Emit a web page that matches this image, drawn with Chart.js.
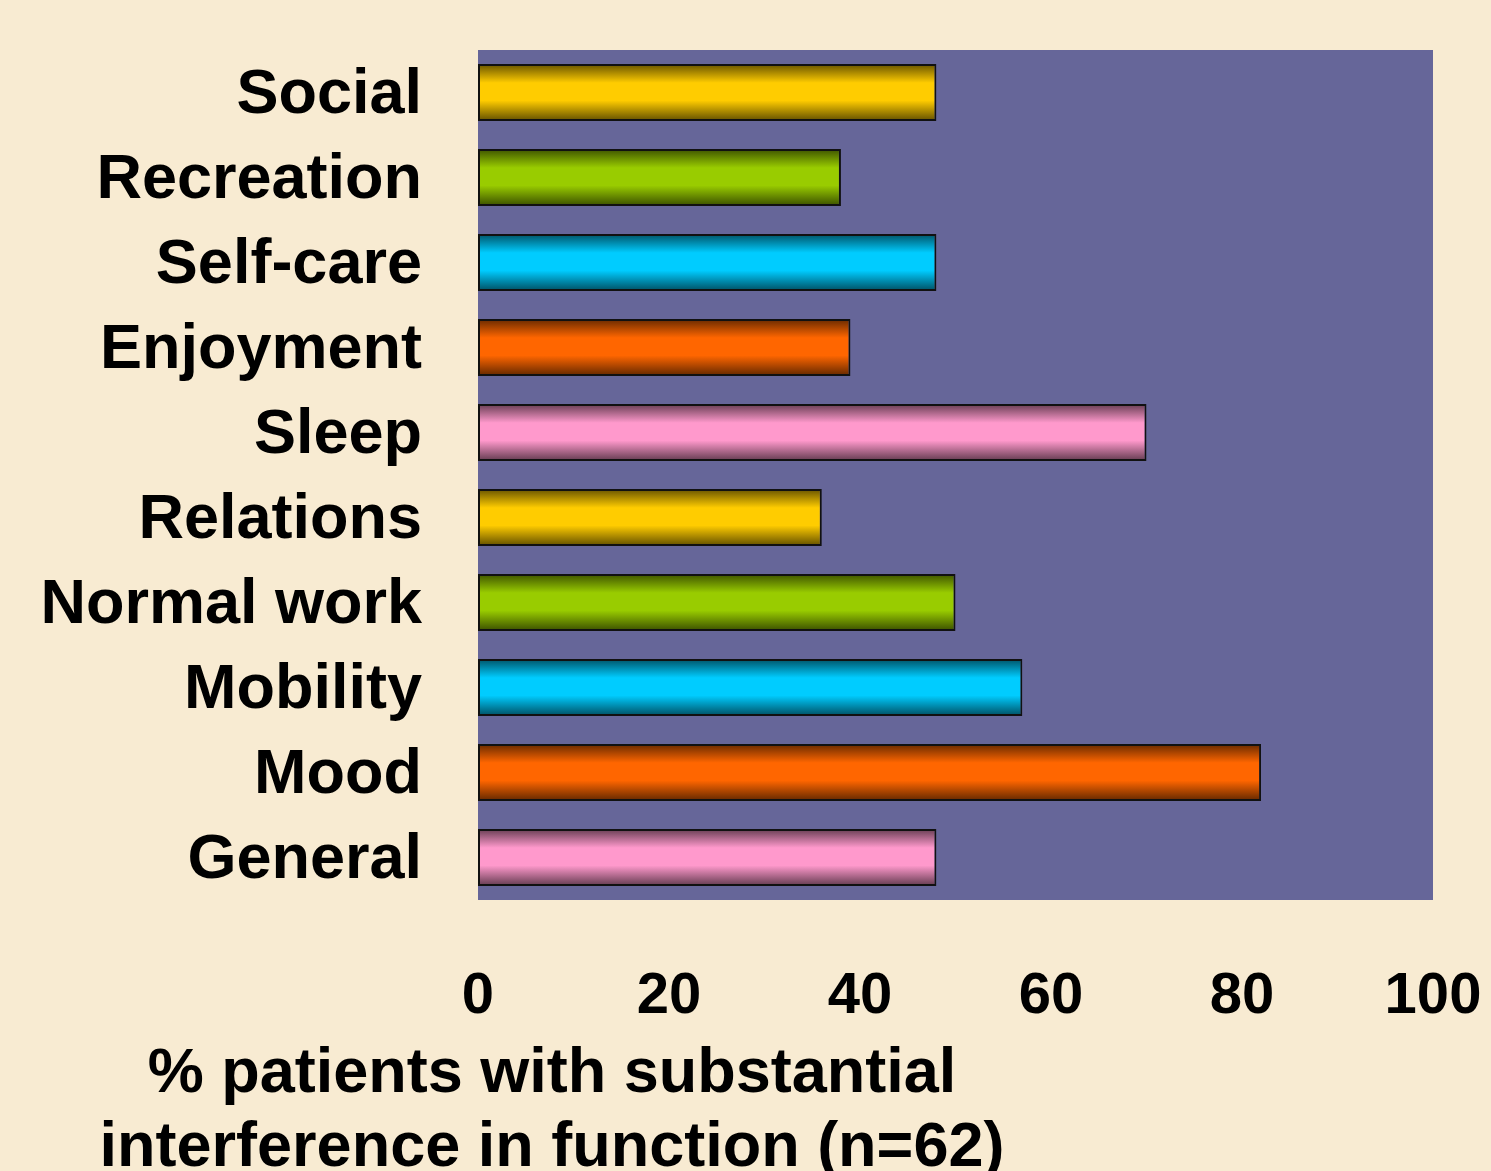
<!DOCTYPE html>
<html>
<head>
<meta charset="utf-8">
<script src="https://cdn.jsdelivr.net/npm/chart.js@4.4.1/dist/chart.umd.min.js"></script>
<style>
  html, body { margin: 0; padding: 0; background: #F8EBD2; }
  #wrap { width: 1491px; height: 1171px; position: relative; }
  canvas { display: block; }
</style>
</head>
<body>
<div id="wrap"><canvas id="c" width="1491" height="1171"></canvas></div>
<script>
const categories = ["Social", "Recreation", "Self-care", "Enjoyment", "Sleep", "Relations", "Normal work", "Mobility", "Mood", "General"];
const values = [48, 38, 48, 39, 70, 36, 50, 57, 82, 48];
const barColors = ["#FFCC00", "#99CC00", "#00CCFF", "#FF6600", "#FF99CC", "#FFCC00", "#99CC00", "#00CCFF", "#FF6600", "#FF99CC"];
const xTicks = [0, 20, 40, 60, 80, 100];
const axisTitleLines = ["% patients with substantial", "interference in function (n=62)"];

function shade(hex, f) {
  const n = parseInt(hex.slice(1), 16);
  const r = Math.round(((n >> 16) & 255) * f);
  const g = Math.round(((n >> 8) & 255) * f);
  const b = Math.round((n & 255) * f);
  return `rgb(${r},${g},${b})`;
}

const plotBg = {
  id: 'plotBg',
  beforeDraw(chart) {
    const { ctx, chartArea: a } = chart;
    ctx.save();
    ctx.fillStyle = '#666699';
    ctx.fillRect(a.left, a.top, a.right - a.left, a.bottom - a.top);
    ctx.restore();
  }
};

const barGradient = {
  id: 'barGradient',
  beforeDatasetsDraw(chart) {
    const { ctx } = chart;
    const meta = chart.getDatasetMeta(0);
    meta.data.forEach((el, i) => {
      const top = el.y - el.height / 2;
      const bot = el.y + el.height / 2;
      const g = ctx.createLinearGradient(0, top, 0, bot);
      const c = barColors[i];
      g.addColorStop(0, shade(c, 0.4));
      g.addColorStop(0.33, c);
      g.addColorStop(0.64, c);
      g.addColorStop(1, shade(c, 0.38));
      el.options.backgroundColor = g;
    });
  }
};

const axisTitle = {
  id: 'axisTitle',
  afterDraw(chart) {
    const { ctx, chartArea: a } = chart;
    ctx.save();
    ctx.fillStyle = '#000';
    ctx.font = 'bold 63px "Liberation Sans", Arial, sans-serif';
    ctx.textAlign = 'center';
    ctx.textBaseline = 'alphabetic';
    const cx = a.left + 74;
    axisTitleLines.forEach((t, k) => {
      ctx.fillText(t, cx, a.bottom + 192 + k * 74);
    });
    ctx.restore();
  }
};

new Chart(document.getElementById('c'), {
  type: 'bar',
  data: {
    labels: categories,
    datasets: [{
      data: values,
      backgroundColor: barColors,
      borderColor: '#111111',
      borderWidth: 2,
      borderSkipped: false,
      barPercentage: 0.67,
      categoryPercentage: 1.0
    }]
  },
  options: {
    indexAxis: 'y',
    responsive: false,
    animation: false,
    layout: { padding: { top: 50, right: 58, left: 0, bottom: 0 } },
    plugins: { legend: { display: false }, tooltip: { enabled: false }, title: { display: false } },
    scales: {
      x: {
        min: 0, max: 100,
        afterBuildTicks(scale) { scale.ticks = xTicks.map(v => ({ value: v })); },
        grid: { display: false, drawTicks: false },
        border: { display: false },
        ticks: {
          color: '#000',
          font: { family: '"Liberation Sans", Arial, sans-serif', size: 58, weight: 'bold' },
          padding: 62,
          maxRotation: 0,
          autoSkip: false
        },
        afterFit(scale) { scale.height = 271; scale.paddingLeft = 0; scale.paddingRight = 0; }
      },
      y: {
        grid: { display: false, drawTicks: false },
        border: { display: false },
        ticks: {
          color: '#000',
          font: { family: '"Liberation Sans", Arial, sans-serif', size: 63, weight: 'bold' },
          padding: 56,
          labelOffset: 3,
          autoSkip: false
        },
        afterFit(scale) { scale.width = 478; scale.paddingTop = 0; scale.paddingBottom = 0; }
      }
    }
  },
  plugins: [plotBg, barGradient, axisTitle]
});
</script>
</body>
</html>
